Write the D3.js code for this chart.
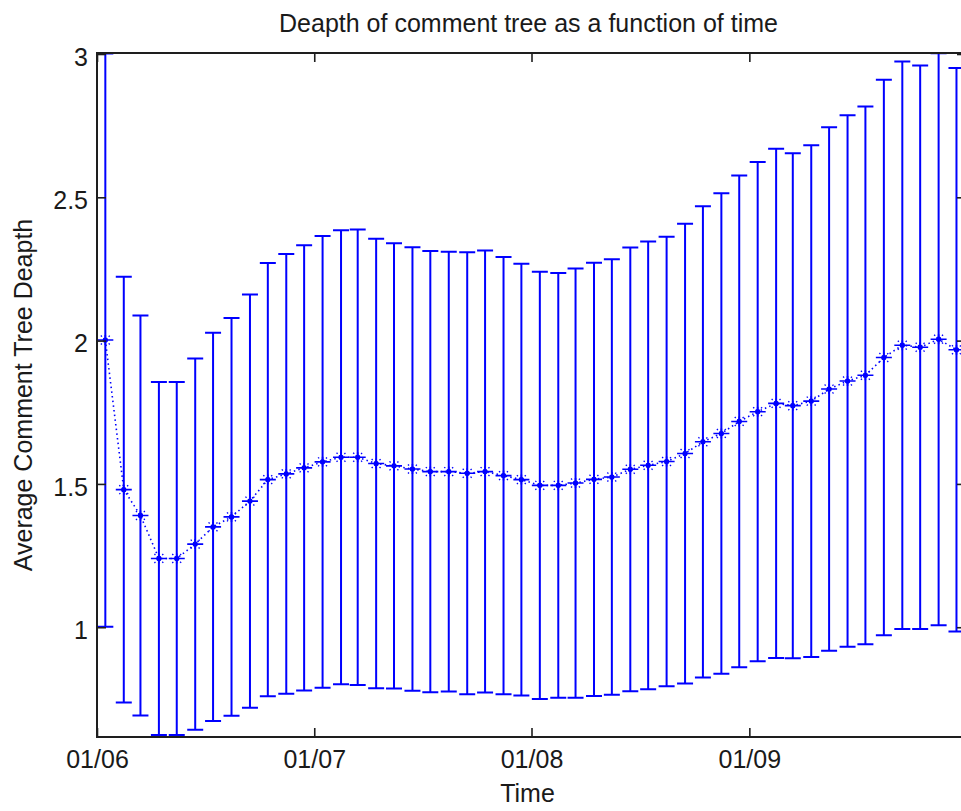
<!DOCTYPE html>
<html>
<head>
<meta charset="utf-8">
<script src="https://cdn.jsdelivr.net/npm/d3@7"></script>
<style>
  html, body { margin: 0; padding: 0; background: #fff; }
  svg { display: block; }
  text { font-family: "Liberation Sans", Arial, Helvetica, sans-serif; fill: #1a1a1a; }
</style>
</head>
<body>
<svg id="chart" width="961" height="811"></svg>
<script>
// ---- data ----
const dates = [
  "2006-01-15","2006-02-15","2006-03-15","2006-04-15","2006-05-15","2006-06-15",
  "2006-07-15","2006-08-15","2006-09-15","2006-10-15","2006-11-15","2006-12-15",
  "2007-01-15","2007-02-15","2007-03-15","2007-04-15","2007-05-15","2007-06-15",
  "2007-07-15","2007-08-15","2007-09-15","2007-10-15","2007-11-15","2007-12-15",
  "2008-01-15","2008-02-15","2008-03-15","2008-04-15","2008-05-15","2008-06-15",
  "2008-07-15","2008-08-15","2008-09-15","2008-10-15","2008-11-15","2008-12-15",
  "2009-01-15","2009-02-15","2009-03-15","2009-04-15","2009-05-15","2009-06-15",
  "2009-07-15","2009-08-15","2009-09-15","2009-10-15","2009-11-15","2009-12-15"
];
const means = [
  2.002,1.48,1.39,1.24,1.24,1.29,1.35,1.385,1.44,1.515,1.535,1.556,
  1.577,1.593,1.593,1.571,1.563,1.552,1.543,1.543,1.537,1.543,1.529,1.515,
  1.495,1.495,1.503,1.516,1.524,1.551,1.565,1.578,1.606,1.647,1.676,1.718,
  1.752,1.781,1.773,1.789,1.831,1.859,1.879,1.941,1.984,1.977,2.005,1.968
];
const errors = [
  1.0,0.743,0.698,0.616,0.616,0.648,0.677,0.694,0.721,0.756,0.767,0.777,
  0.788,0.792,0.795,0.784,0.777,0.774,0.770,0.767,0.771,0.771,0.763,0.753,
  0.745,0.741,0.749,0.756,0.760,0.774,0.781,0.784,0.802,0.822,0.838,0.858,
  0.871,0.888,0.881,0.893,0.913,0.927,0.938,0.969,0.990,0.983,0.998,0.983
];
const xTickDates = ["2006-01-01","2007-01-01","2008-01-01","2009-01-01"];
const xTickLabels = ["01/06","01/07","01/08","01/09"];
const yTicks = [1, 1.5, 2, 2.5, 3];
const xDomain = ["2006-01-01","2009-12-31"];
const yDomain = [0.617, 3.0];
const titleText = "Deapth of comment tree as a function of time";
const xLabelText = "Time";
const yLabelText = "Average Comment Tree Deapth";

// ---- layout ----
const parse = d3.timeParse("%Y-%m-%d");
const L = 97, R = 966, T = 53, B = 737;
const x = d3.scaleTime().domain(xDomain.map(parse)).range([L, R]);
const y = d3.scaleLinear().domain(yDomain).range([B, T + 1]);

const svg = d3.select("#chart");
const blue = "#0000ff";
const axisColor = "#1e1e1e";

const data = dates.map((d, i) => ({ date: parse(d), m: means[i], e: errors[i] }));

svg.append("defs").append("clipPath").attr("id", "clip")
  .append("rect").attr("x", L).attr("y", T).attr("width", R - L).attr("height", B - T);

const plot = svg.append("g").attr("clip-path", "url(#clip)");

// dotted connecting line
plot.append("path")
  .datum(data)
  .attr("fill", "none")
  .attr("stroke", blue)
  .attr("stroke-width", 1.6)
  .attr("stroke-dasharray", "1.5,3.2")
  .attr("d", d3.line().x(d => x(d.date)).y(d => y(d.m)));

// error bars
const capW = 8;
const eb = plot.append("g").attr("stroke", blue).attr("stroke-width", 2).attr("fill", "none");
eb.selectAll("path.bar").data(data).join("path").attr("class", "bar")
  .attr("d", d => {
    const cx = x(d.date), y1 = y(d.m + d.e), y0 = y(d.m - d.e);
    return `M${cx},${y0}V${y1}M${cx - capW},${y1}H${cx + capW}M${cx - capW},${y0}H${cx + capW}`;
  });

// asterisk markers
const mk = plot.append("g");
mk.selectAll("g").data(data).join("g")
  .attr("transform", d => `translate(${x(d.date)},${y(d.m)})`)
  .each(function () {
    const g = d3.select(this);
    g.append("path")
      .attr("d", "M-8,0H8M0,-5V5")
      .attr("stroke", blue).attr("stroke-width", 1.6).attr("fill", "none");
    g.append("path")
      .attr("d", "M-4.5,-4.5L4.5,4.5M-4.5,4.5L4.5,-4.5")
      .attr("stroke", blue).attr("stroke-width", 1.3).attr("stroke-dasharray", "1.5,2.2").attr("fill", "none");
    g.append("circle").attr("r", 2.6).attr("fill", blue);
  });

// ---- axes ----
const tickDates = xTickDates.map(parse);
const fontSize = 25;

const gx = svg.append("g").attr("transform", `translate(0,${B})`)
  .call(d3.axisBottom(x).tickValues(tickDates).tickFormat((d, i) => xTickLabels[i])
    .tickSizeInner(-9).tickSizeOuter(0).tickPadding(13));
const gxt = svg.append("g").attr("transform", `translate(0,${T})`)
  .call(d3.axisTop(x).tickValues(tickDates).tickFormat("")
    .tickSizeInner(-9).tickSizeOuter(0));
const gy = svg.append("g").attr("transform", `translate(${L},0)`)
  .call(d3.axisLeft(y).tickValues(yTicks).tickFormat(d3.format("~g"))
    .tickSizeInner(-9).tickSizeOuter(0).tickPadding(9));
const gyr = svg.append("g").attr("transform", `translate(${R},0)`)
  .call(d3.axisRight(y).tickValues(yTicks).tickFormat("")
    .tickSizeInner(-9).tickSizeOuter(0));

[gx, gxt, gy, gyr].forEach(g => {
  g.selectAll("path.domain").remove();
  g.selectAll(".tick line").attr("stroke", axisColor).attr("stroke-width", 1.6);
  g.selectAll("text").attr("font-size", fontSize)
    .style("font-family", '"Liberation Sans", Arial, sans-serif').attr("fill", "#1a1a1a");
});
gy.selectAll("text").attr("dy", "0.45em");

// box
svg.append("rect").attr("x", L).attr("y", T).attr("width", R - L).attr("height", B - T)
  .attr("fill", "none").attr("stroke", axisColor).attr("stroke-width", 2);

// titles
svg.append("text").attr("x", (L + R) / 2 - 3).attr("y", 32)
  .attr("text-anchor", "middle").attr("font-size", fontSize).text(titleText);
svg.append("text").attr("x", (L + R) / 2 - 4).attr("y", 802)
  .attr("text-anchor", "middle").attr("font-size", fontSize).text(xLabelText);
svg.append("text")
  .attr("transform", `translate(32,${(T + B) / 2}) rotate(-90)`)
  .attr("text-anchor", "middle").attr("font-size", fontSize).text(yLabelText);
</script>
</body>
</html>
